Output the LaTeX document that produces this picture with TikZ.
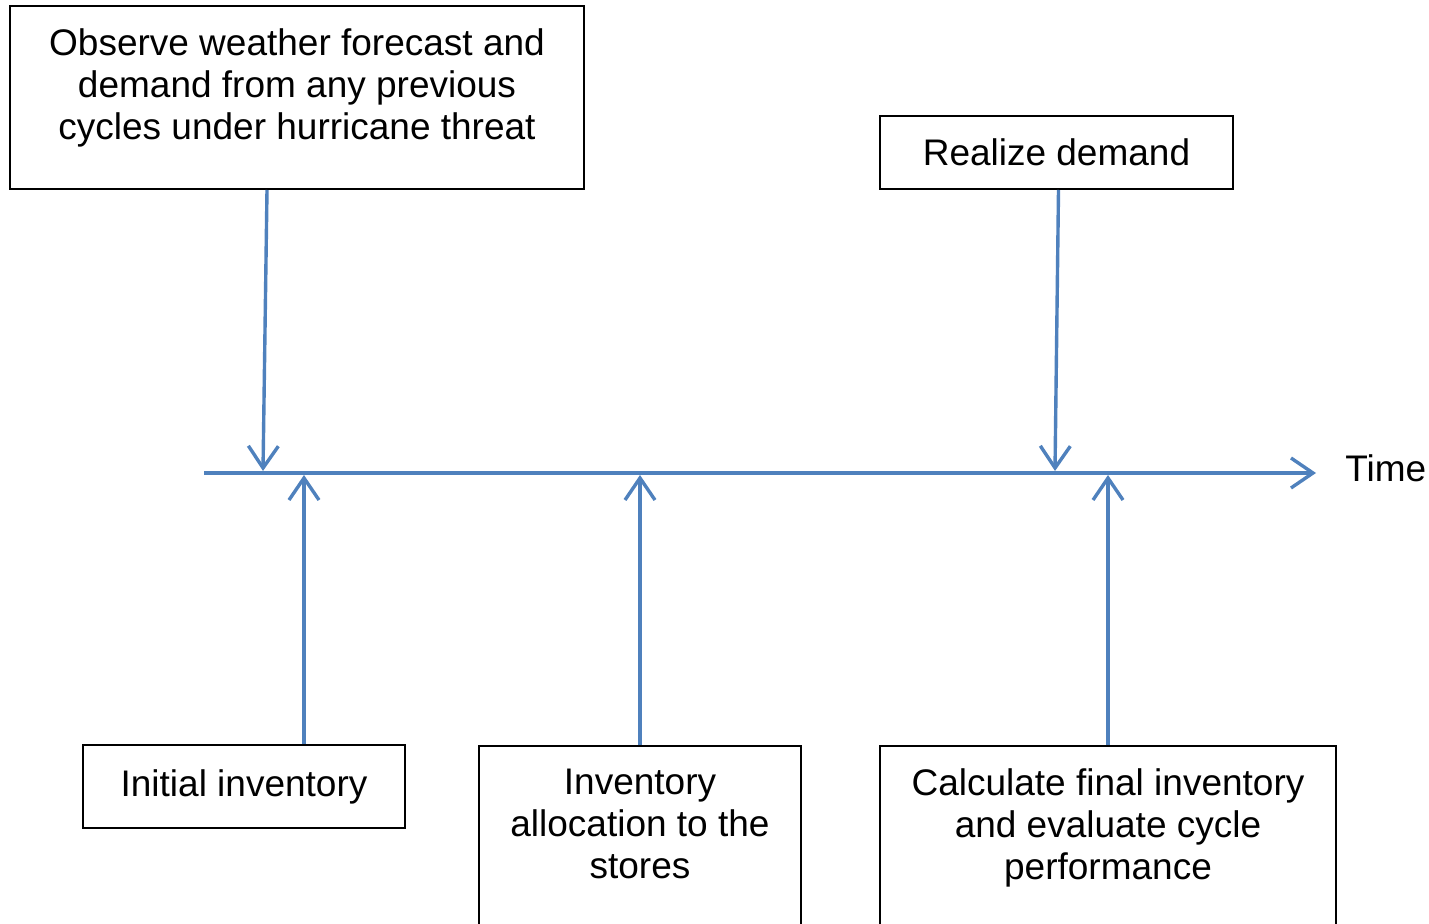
\documentclass[tikz,border=0pt]{standalone}
\usepackage{fontspec}
\setmainfont{Liberation Sans}
\usetikzlibrary{arrows.meta,positioning}
\definecolor{lineblue}{RGB}{79,129,189}

\begin{document}
\begin{tikzpicture}[x=0.5pt,y=-0.5pt,font=\fontsize{18.5}{21}\selectfont]
      \tikzset{box/.style={draw,line width=1pt,rectangle,align=center,inner sep=0pt}}
      \tikzset{flow/.style={lineblue,line width=1.7pt,-{Straight Barb[length=11pt,width=15pt]}}}

      \useasboundingbox (0,0) rectangle (1429,924);
      \clip (0,0) rectangle (1429,924);

      \node[box,minimum width=287pt,minimum height=91.5pt] (observe) at (297,97.5) {Observe weather forecast and\\demand from any previous\\cycles under hurricane threat\\[-8pt]~};
      \node[box,minimum width=176.5pt,minimum height=36.5pt] (realize) at (1056.5,152.5) {Realize demand};
      \node[box,minimum width=161pt,minimum height=41.5pt] (initinv) at (244,786.5) {Initial inventory};
      \node[box,anchor=north,minimum width=161pt,minimum height=99pt] (alloc) at (640,745) {Inventory\\allocation to the\\stores\\~};
      \node[box,anchor=north,minimum width=228pt,minimum height=99pt] (final) at (1108,745) {Calculate final inventory\\and evaluate cycle\\performance\\~};
      \node[anchor=west,inner sep=0pt] (time) at (1345,468) {Time};

      \coordinate (tstart) at (204,473);
      \coordinate (tend) at (1316,473);
      \coordinate (obsin) at (263,471);
      \coordinate (realin) at (1055,471);
      \coordinate (initin) at (304,475);
      \coordinate (allocin) at (640,475);
      \coordinate (finalin) at (1108,475);

      \draw[flow] (tstart) -- (tend);
      \draw[flow] ([xshift=-15pt]observe.south) -- (obsin);
      \draw[flow] ([xshift=1pt]realize.south) -- (realin);
      \draw[flow] ([xshift=30pt]initinv.north) -- (initin);
      \draw[flow] (alloc.north) -- (allocin);
      \draw[flow] (final.north) -- (finalin);
\end{tikzpicture}
\end{document}
